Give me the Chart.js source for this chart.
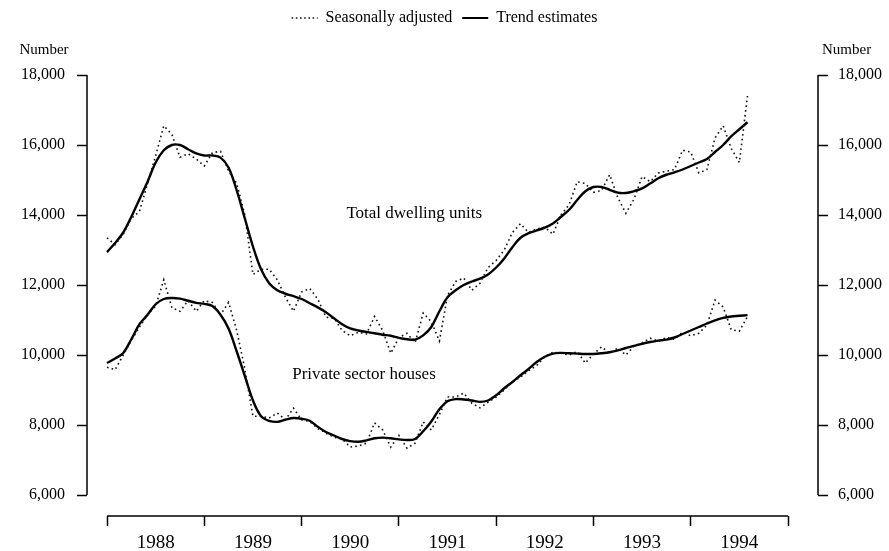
<!DOCTYPE html>
<html>
<head>
<meta charset="utf-8">
<script src="https://cdn.jsdelivr.net/npm/chart.js@4.4.1/dist/chart.umd.min.js"></script>
<style>
  html, body { margin: 0; padding: 0; background: #fff; }
  #wrap { width: 889px; height: 551px; }
</style>
</head>
<body>
<div id="wrap"><canvas id="chart" width="889" height="551"></canvas></div>
<script>
// Monthly series, Jan 1988 onwards (month index 0 = Jan 1988)
const years = ['1988', '1989', '1990', '1991', '1992', '1993', '1994'];
const yTicks = [6000, 8000, 10000, 12000, 14000, 16000, 18000];

const totalSA = [
  13350, 13150, 13450, 13900, 14100, 14900, 15700, 16550, 16300, 15650, 15750, 15600,
  15400, 15780, 15820, 15250, 14900, 14000, 12300, 12450, 12450, 12150, 11650, 11250,
  11800, 11900, 11600, 11080, 11050, 10700, 10550, 10650, 10600, 11100, 10700, 10050,
  10500, 10620, 10350, 11200, 10950, 10400, 11700, 12100, 12200, 11850, 12050, 12500,
  12700, 13000, 13500, 13750, 13500, 13600, 13650, 13450, 14000, 14300, 14950, 14900,
  14650, 14700, 15150, 14500, 14050, 14450, 15100, 14950, 15200, 15250, 15300, 15850,
  15800, 15200, 15300, 16200, 16550, 15900, 15500, 17400
];
const totalTrend = [
  12940, 13200, 13500, 13950, 14450, 14950, 15500, 15850, 16000, 16000, 15880, 15760,
  15700, 15700, 15640, 15350, 14700, 13900, 13100, 12450, 12050, 11850, 11750, 11680,
  11600, 11480, 11360, 11220, 11050, 10880, 10760, 10700, 10660, 10620, 10580, 10550,
  10490, 10450, 10440, 10560, 10800, 11250, 11650, 11850, 12000, 12100, 12180, 12300,
  12500, 12760, 13080, 13350, 13480, 13560, 13640, 13760, 13950, 14150, 14430, 14680,
  14800, 14800, 14720, 14640, 14630, 14680, 14760, 14900, 15050, 15150, 15220, 15300,
  15400, 15500, 15600, 15800, 16000, 16250, 16450, 16650
];
const privateSA = [
  9650, 9580, 10000, 10420, 10800, 11150, 11400, 12150, 11350, 11250, 11550, 11250,
  11550, 11500, 11150, 11500, 10700, 9600, 8250, 8250, 8200, 8340, 8150, 8480,
  8150, 8100, 7900, 7770, 7650, 7600, 7370, 7400, 7480, 8060, 7860, 7370,
  7700, 7340, 7480, 8090, 7860, 8300, 8800, 8800, 8910, 8620, 8490, 8650,
  8800, 9000, 9230, 9370, 9550, 9700, 9950, 10080, 10050, 10000, 10100, 9770,
  10030, 10230, 10050, 10200, 10000, 10250, 10350, 10480, 10400, 10500, 10450, 10650,
  10550, 10620, 10850, 11570, 11370, 10720, 10680, 11100
];
const privateTrend = [
  9770, 9900, 10060, 10450, 10880, 11150, 11450, 11600, 11630, 11610, 11550, 11490,
  11460, 11400, 11150, 10750, 10100, 9400, 8700, 8250, 8120, 8090, 8150, 8200,
  8180, 8120, 7950, 7800, 7700, 7600, 7540, 7520, 7560, 7620, 7640, 7620,
  7590, 7570, 7600, 7820, 8100, 8450, 8680, 8740, 8730, 8700, 8660, 8700,
  8850, 9050, 9230, 9420, 9600, 9800, 9950, 10040, 10060, 10050, 10040, 10030,
  10030, 10050, 10080, 10130, 10200, 10260, 10320, 10370, 10410, 10440, 10500, 10600,
  10700, 10800, 10900, 10990, 11060, 11100, 11120, 11140
];

const toPoints = arr => arr.map((v, i) => ({ x: i, y: v }));
const FONT = 'Liberation Serif';
Chart.defaults.font.family = FONT;
Chart.defaults.color = '#000';

const dotted = { borderColor: '#111', borderWidth: 1.6, borderDash: [1.6, 3.2], pointRadius: 0, tension: 0 };
const solid = { borderColor: '#000', borderWidth: 2.4, pointRadius: 0, tension: 0.35 };

// axis lines, "Number" captions and series annotations
const extras = {
  id: 'extras',
  beforeInit(chart) {
    // leave room between legend and plot
    const fit = chart.legend.fit;
    chart.legend.fit = function () { fit.call(this); this.height += 39; };
  },
  afterDatasetsDraw(chart) {
    const { ctx, chartArea, scales } = chart;
    const x = scales.x, y = scales.y;
    ctx.save();
    ctx.strokeStyle = '#000';
    ctx.lineWidth = 1.5;
    ctx.beginPath();
    ctx.moveTo(chartArea.left, y.getPixelForValue(18000));
    ctx.lineTo(chartArea.left, y.getPixelForValue(6000));
    ctx.moveTo(chartArea.right, y.getPixelForValue(18000));
    ctx.lineTo(chartArea.right, y.getPixelForValue(6000));
    ctx.moveTo(x.getPixelForValue(0), chartArea.bottom);
    ctx.lineTo(x.getPixelForValue(84), chartArea.bottom);
    ctx.stroke();

    ctx.fillStyle = '#000';
    ctx.textBaseline = 'middle';
    ctx.font = '15px ' + FONT;
    ctx.textAlign = 'center';
    ctx.fillText('Number', chartArea.left - 43, 50);
    ctx.textAlign = 'left';
    ctx.fillText('Number', chartArea.right + 4, 50);

    ctx.font = '17px ' + FONT;
    ctx.textAlign = 'center';
    ctx.fillText('Total dwelling units', x.getPixelForValue(37.9), y.getPixelForValue(14050));
    ctx.fillText('Private sector houses', x.getPixelForValue(31.7), y.getPixelForValue(9430));
    ctx.restore();
  }
};

const yAxis = (position, width, pad) => ({
  type: 'linear',
  position: position,
  min: 5400,
  max: 18000,
  afterBuildTicks: s => { s.ticks = yTicks.map(v => ({ value: v })); },
  afterFit: s => { s.width = width; },
  border: { display: false },
  grid: { drawOnChartArea: false, drawTicks: true, tickLength: 10, tickWidth: 1.5, tickColor: '#000' },
  ticks: {
    padding: pad,
    font: { size: 16 },
    callback: v => v.toLocaleString('en-US')
  }
});

new Chart(document.getElementById('chart'), {
  type: 'line',
  data: {
    datasets: [
      Object.assign({ label: 'Total SA', data: toPoints(totalSA) }, dotted),
      Object.assign({ label: 'Total trend', data: toPoints(totalTrend) }, solid),
      Object.assign({ label: 'Private SA', data: toPoints(privateSA) }, dotted),
      Object.assign({ label: 'Private trend', data: toPoints(privateTrend) }, solid)
    ]
  },
  options: {
    responsive: false,
    animation: false,
    layout: { padding: { top: 0, left: 0, right: 0, bottom: 0 } },
    plugins: {
      tooltip: { enabled: false },
      legend: {
        position: 'top',
        labels: {
          usePointStyle: true,
          pointStyleWidth: 26,
          padding: 10,
          font: { size: 16 },
          generateLabels: () => [
            { text: 'Seasonally adjusted', fillStyle: 'transparent', strokeStyle: '#111', lineWidth: 1.4, lineDash: [1.6, 2.6], pointStyle: 'line', hidden: false, datasetIndex: 0 },
            { text: 'Trend estimates', fillStyle: 'transparent', strokeStyle: '#000', lineWidth: 2, lineDash: [], pointStyle: 'line', hidden: false, datasetIndex: 1 }
          ]
        }
      }
    },
    scales: {
      x: {
        type: 'linear',
        min: -2.47,
        max: 87.7,
        afterBuildTicks: s => {
          const t = [];
          for (let m = 0; m <= 84; m += 6) t.push({ value: m });
          s.ticks = t;
        },
        afterFit: s => { s.height = 35; },
        border: { display: false },
        grid: {
          drawOnChartArea: false,
          drawTicks: true,
          tickLength: 10,
          tickWidth: 1.5,
          tickColor: c => (c.tick && c.tick.value % 12 === 0) ? '#000' : 'rgba(0,0,0,0)'
        },
        ticks: {
          autoSkip: false,
          maxRotation: 0,
          padding: 6,
          font: { size: 19 },
          callback: v => (v % 12 === 6) ? years[(v - 6) / 12] : ''
        }
      },
      y: yAxis('left', 87, 12),
      y2: yAxis('right', 71, 10)
    }
  },
  plugins: [extras]
});
</script>
</body>
</html>
